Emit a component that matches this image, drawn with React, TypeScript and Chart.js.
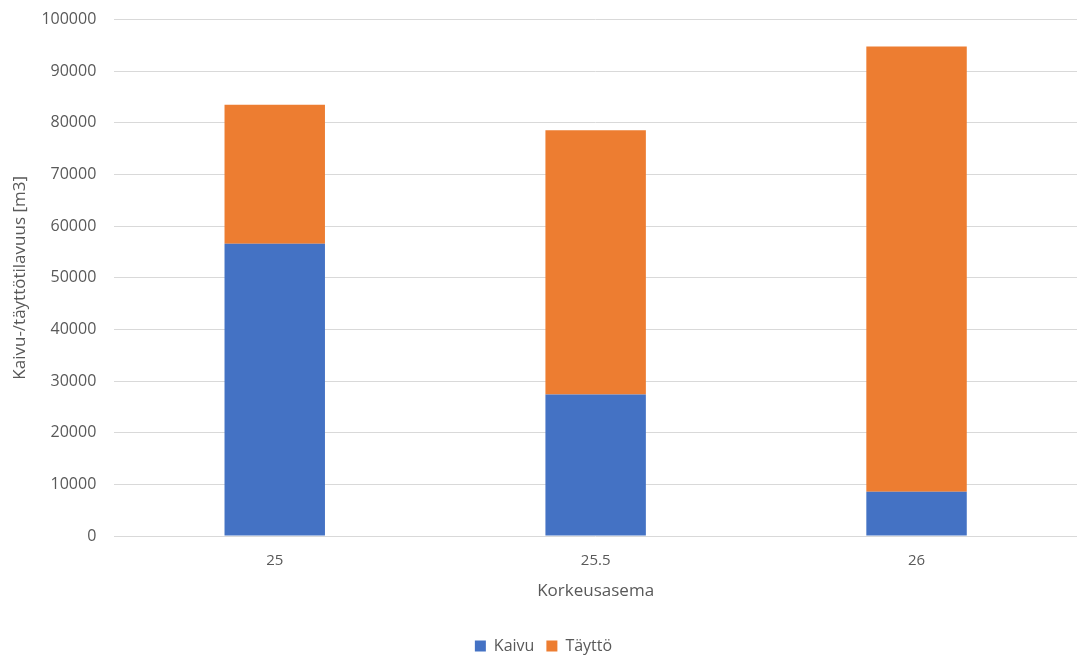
import React, { useEffect, useRef } from "react";
import { Chart, registerables } from "chart.js";

Chart.register(...registerables);

const categories = ["25", "25.5", "26"];
const kaivu = [56600, 27400, 8600];
const tayttoe = [26900, 51200, 86200];
const seriesNames = ["Kaivu", "Täyttö"];

export default function App() {
  const ref = useRef<HTMLCanvasElement | null>(null);
  useEffect(() => {
    if (!ref.current) return;
    const font = "'Open Sans', 'Liberation Sans', sans-serif";
    const chart = new Chart(ref.current, {
      type: "bar",
      data: {
        labels: categories,
        datasets: [
          { label: seriesNames[0], data: kaivu, backgroundColor: "#4472C4", borderWidth: 0 },
          { label: seriesNames[1], data: tayttoe, backgroundColor: "#ED7D31", borderWidth: 0 },
        ],
      },
      options: {
        animation: false,
        responsive: false,
        maintainAspectRatio: false,
        layout: { padding: { left: 10, right: 0, top: 0, bottom: -9 } },
        datasets: { bar: { categoryPercentage: 1, barPercentage: 0.313 } },
        scales: {
          x: {
            stacked: true,
            grid: { display: false },
            border: { display: false },
            ticks: { color: "#595959", font: { family: font, size: 15 }, padding: 8 },
            title: { display: true, text: "Korkeusasema", color: "#595959", font: { family: font, size: 17 }, padding: { top: 2.5, bottom: 25 } },
          },
          y: {
            stacked: true,
            min: 0,
            max: 100000,
            ticks: {
              stepSize: 10000,
              color: "#595959",
              font: { family: font, size: 16 },
              padding: 10,
              callback: (v: any) => String(v) + "\u2002",
            },
            grid: { color: "#d9d9d9", lineWidth: 1, drawTicks: false },
            border: { display: false },
            title: { display: true, text: "Kaivu-/täyttötilavuus [m3]", color: "#595959", font: { family: font, size: 17 }, padding: { top: 0, bottom: 1 } },
          },
        },
        plugins: {
          legend: {
            position: "bottom",
            labels: { boxWidth: 11, boxHeight: 11, color: "#595959", font: { family: font, size: 16 }, padding: 12 },
          },
          tooltip: { enabled: false },
        },
      },
    });
    return () => chart.destroy();
  }, []);
  return (
    <div style={{ position: "fixed", left: 0, top: 0, width: 1077, height: 655, background: "#fff" }}>
      <canvas ref={ref} width={1077} height={655} style={{ width: 1077, height: 655 }} />
    </div>
  );
}
